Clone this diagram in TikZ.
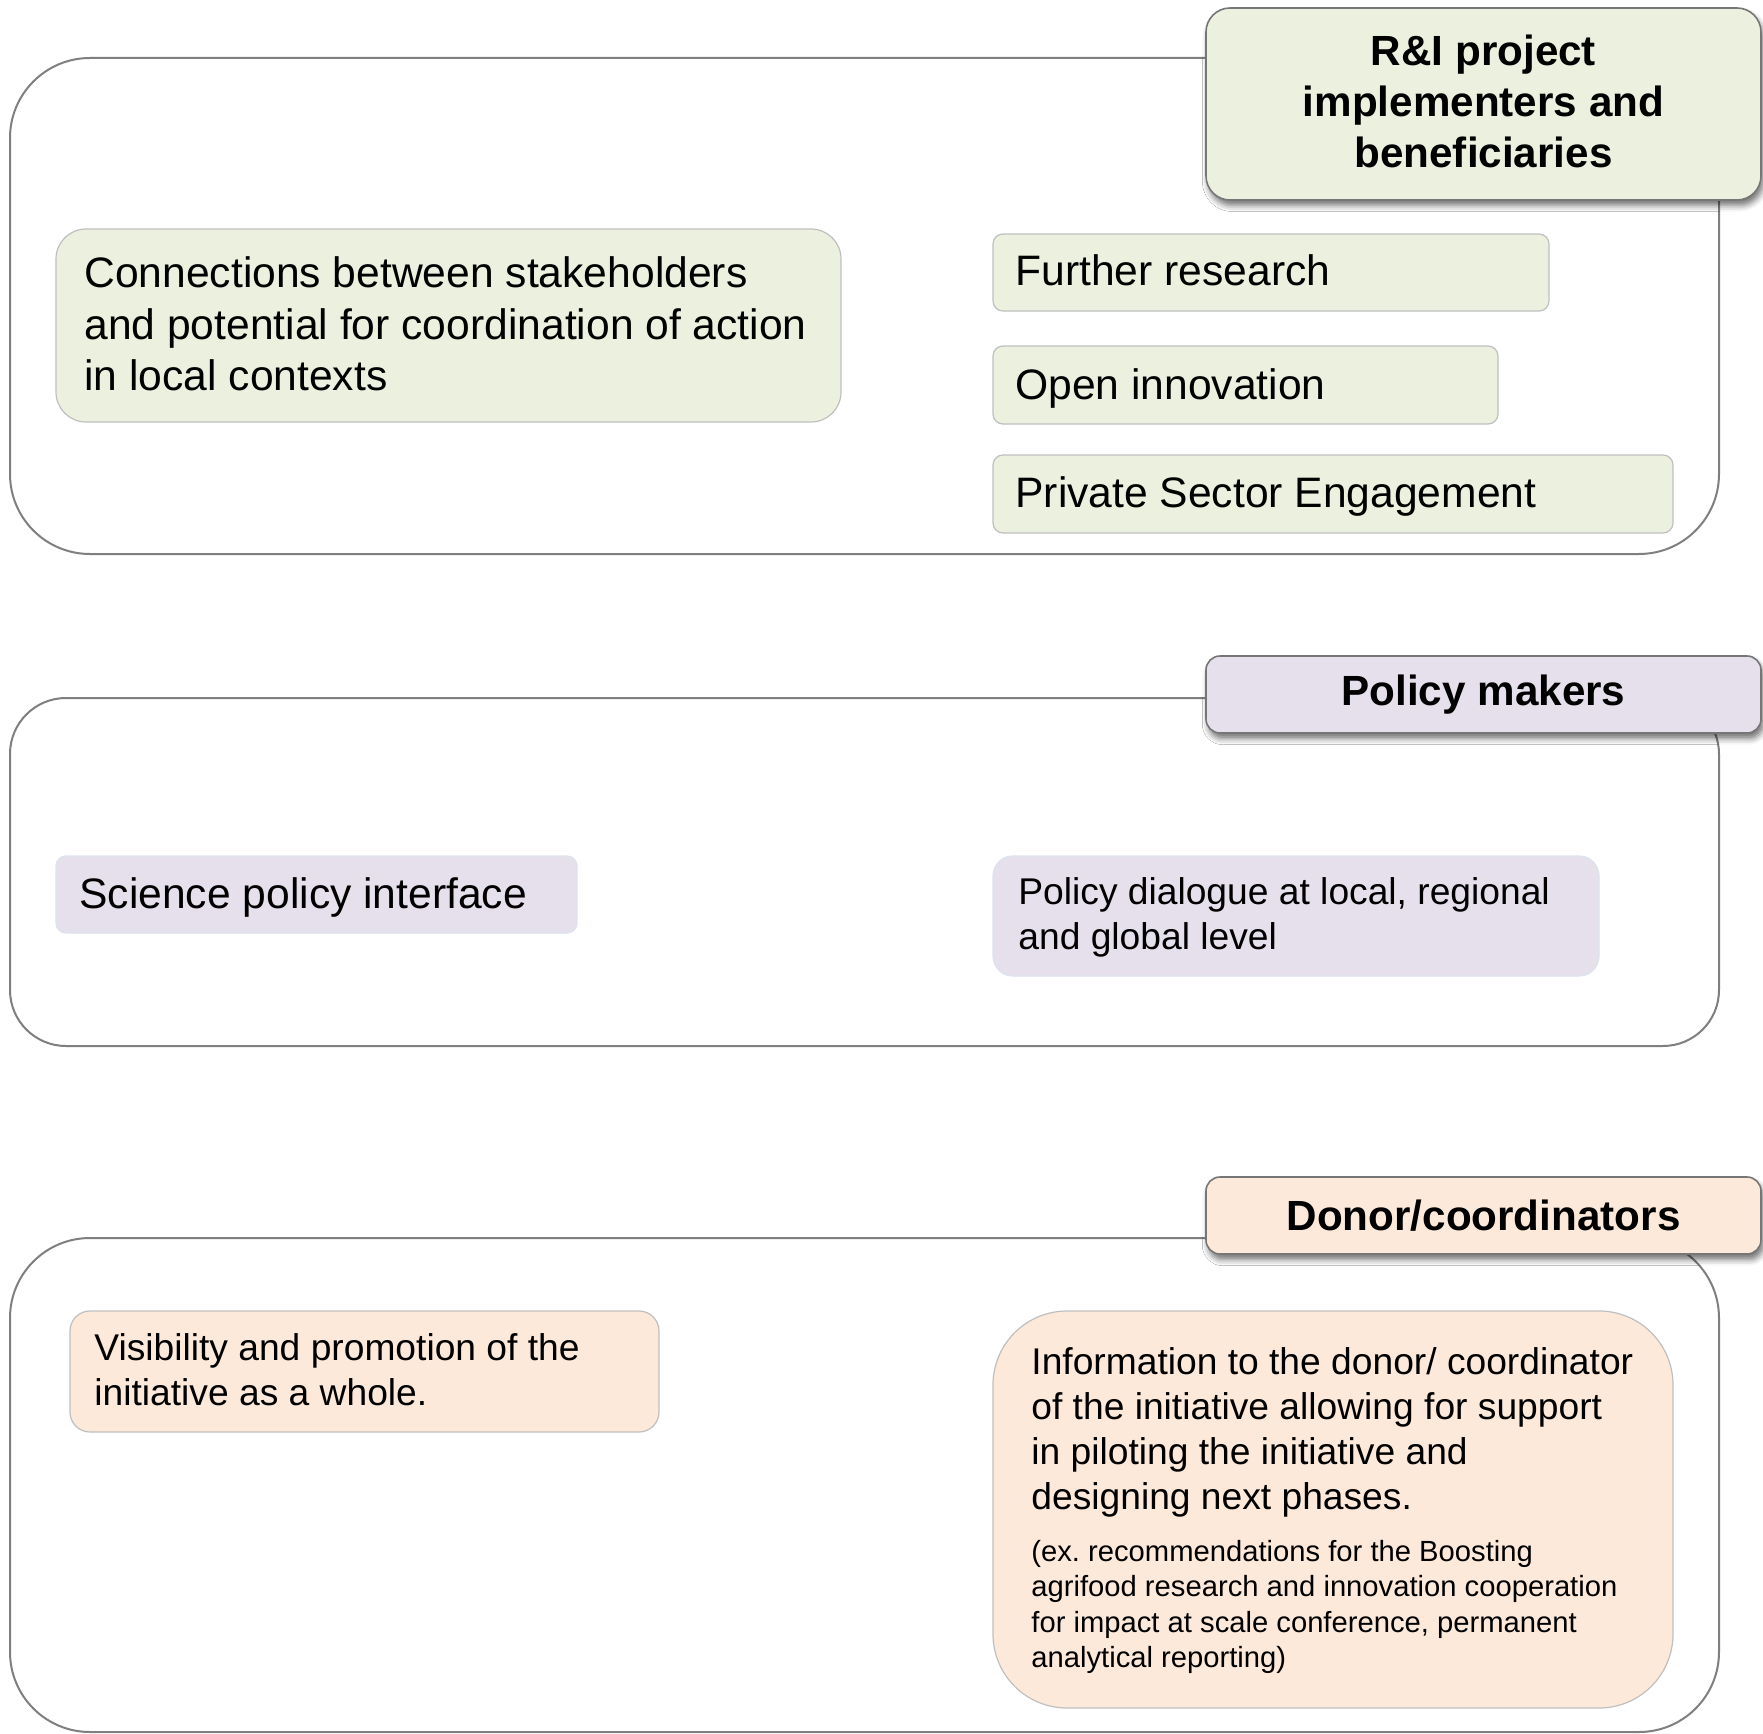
\documentclass[tikz,border=0pt]{standalone}
\usepackage{fontspec}
\setmainfont{Liberation Sans}
\usetikzlibrary{shadows.blur}
\definecolor{gfill}{HTML}{EBF1DE}
\definecolor{lfill}{HTML}{E5E0EC}
\definecolor{pfill}{HTML}{FDE9D9}
\definecolor{outline}{HTML}{7F7F7F}
\definecolor{hdrline}{HTML}{767676}
\definecolor{inline}{HTML}{BFBFBF}
\definecolor{lline}{HTML}{DCE2EE}
\tikzset{
  outerbox/.style={draw=outline, line width=1pt, fill=white, inner sep=0pt, rounded corners=#1},
  hdr/.style={draw=hdrline, line width=0.8pt, rounded corners=#1, align=center, inner sep=0pt,
    font=\bfseries\fontsize{21.1}{25.5}\selectfont,
    blur shadow={shadow xshift=1.2pt, shadow yshift=-2.8pt, shadow blur radius=3pt, shadow opacity=55}},
  inbox/.style={draw=inline, line width=0.6pt, inner sep=0pt, rounded corners=#1},
  lbox/.style={draw=lline, line width=0.6pt, inner sep=0pt, rounded corners=#1},
  txtbase/.style={anchor=north west, inner sep=0pt, align=left,
    execute at begin node=\strut, execute at end node=\strut},
  txtL/.style={txtbase, font=\fontsize{21.3}{25.9}\selectfont},
  txtM/.style={txtbase, font=\fontsize{18.6}{22.5}\selectfont},
  txtS/.style={txtbase, font=\fontsize{14.6}{17.7}\selectfont}
}
\begin{document}
\begin{tikzpicture}[x=0.5pt,y=-0.5pt]
\useasboundingbox (0,0) rectangle (1763,1734);

% outer group boxes
\node[outerbox=40pt, minimum width=854.5pt, minimum height=248pt] (g1) at (864.5,306) {};
\node[outerbox=28pt, minimum width=854.5pt, minimum height=174pt] (g2) at (864.5,872) {};
\node[outerbox=40pt, minimum width=854.5pt, minimum height=247pt] (g3) at (864.5,1485) {};

% headers
\node[hdr=12pt, fill=gfill, minimum width=277.5pt, minimum height=96pt] (h1) at (1483.5,104)
  {R\&I project\\implementers and\\beneficiaries\rule[-3pt]{0pt}{1pt}};
\node[hdr=7pt, fill=lfill, minimum width=277.5pt, minimum height=38.5pt] (h2) at (1483.5,694.5)
  {Policy makers};
\node[hdr=7pt, fill=pfill, minimum width=277.5pt, minimum height=38.5pt] (h3) at (1483.5,1215.5)
  {Donor/coordinators};

% group 1 items
\node[inbox=15pt, fill=gfill, minimum width=392.5pt, minimum height=96.5pt] (conn) at (448.5,325.5) {};
\node[txtL] (conntxt) at (84,256) {Connections between stakeholders\\and potential for coordination of action\\in local contexts};
\node[inbox=5pt, fill=gfill, minimum width=278pt, minimum height=38.5pt] (fr) at (1271,272.5) {};
\node[txtL] (frtxt) at (1015,248.8) {Further research};
\node[inbox=5pt, fill=gfill, minimum width=252.5pt, minimum height=39pt] (oi) at (1245.5,385) {};
\node[txtL] (oitxt) at (1015,362.6) {Open innovation};
\node[inbox=5pt, fill=gfill, minimum width=340pt, minimum height=39pt] (ps) at (1333,494) {};
\node[txtL] (pstxt) at (1015,471.1) {Private Sector Engagement};

% group 2 items
\node[lbox=5pt, fill=lfill, minimum width=260.5pt, minimum height=38.5pt] (sp) at (316.5,894.5) {};
\node[txtL] (sptxt) at (79,871.6) {Science policy interface};
\node[lbox=10pt, fill=lfill, minimum width=303pt, minimum height=60pt] (pd) at (1296,916) {};
\node[txtM] (pdtxt) at (1018,877.2) {Policy dialogue at local, regional\\and global level};

% group 3 items
\node[inbox=10pt, fill=pfill, minimum width=294.5pt, minimum height=60.5pt] (vis) at (364.5,1371.5) {};
\node[txtM] (vistxt) at (94,1333.2) {Visibility and promotion of the\\initiative as a whole.};
\node[inbox=37pt, fill=pfill, minimum width=340pt, minimum height=198.5pt] (info) at (1333,1509.5) {};
\node[txtM] (infotxt) at (1031,1347.2) {Information to the donor/ coordinator\\of the initiative allowing for support\\in piloting the initiative and\\designing next phases.};
\node[txtS] (infosmall) at (1031,1540) {(ex.\ recommendations for the Boosting\\agrifood research and innovation cooperation\\for impact at scale conference, permanent\\analytical reporting)};
\end{tikzpicture}
\end{document}
